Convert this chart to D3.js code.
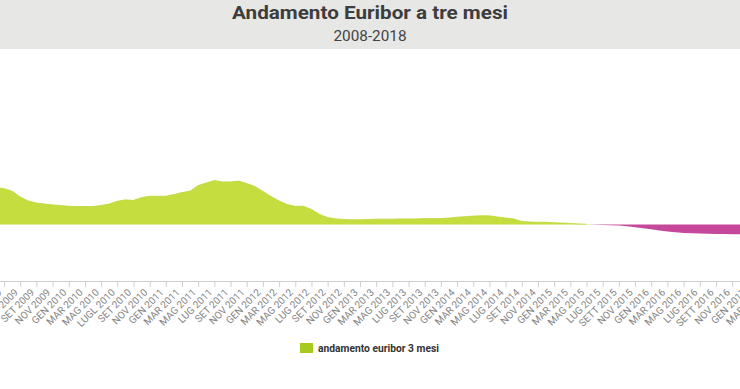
<!DOCTYPE html>
<html>
<head>
<meta charset="utf-8">
<script src="https://cdn.jsdelivr.net/npm/d3@7"></script>
<style>
  body { margin: 0; background: #fff; }
  svg { display: block; font-family: Roboto, "Open Sans", sans-serif; }
</style>
</head>
<body>
<div id="chart"></div>
<script>
// ---------- data (monthly average, %)
const years = [2008, 2009, 2010, 2011, 2012, 2013, 2014, 2015, 2016, 2017]
const values = [
  4.48, 4.36, 4.60, 4.78, 4.86, 4.94, 4.96, 4.97, 5.02, 5.11, 4.24, 3.29,
  2.46, 1.94, 1.64, 1.32, 1.28, 1.19, 0.98, 0.84, 0.77, 0.73, 0.70, 0.68,
  0.65, 0.64, 0.64, 0.64, 0.68, 0.73, 0.83, 0.88, 0.86, 0.96, 1.01, 1.01,
  1.01, 1.07, 1.14, 1.19, 1.39, 1.48, 1.57, 1.52, 1.52, 1.55, 1.46, 1.36,
  1.18, 1.00, 0.84, 0.71, 0.65, 0.65, 0.54, 0.36, 0.25, 0.20, 0.18, 0.17,
  0.17, 0.18, 0.19, 0.19, 0.19, 0.20, 0.20, 0.20, 0.21, 0.21, 0.21, 0.23,
  0.26, 0.28, 0.30, 0.31, 0.31, 0.27, 0.23, 0.20, 0.11, 0.09, 0.08, 0.08,
  0.06, 0.05, 0.04, 0.02, 0.01, -0.01, -0.02, -0.03, -0.04, -0.06, -0.10, -0.13,
  -0.17, -0.21, -0.25, -0.28, -0.30, -0.31, -0.32, -0.33, -0.34, -0.34, -0.35, -0.35,
  -0.35, -0.35, -0.35
]
// one label every two months
const tickLabels = [
  "GEN 2008", "MAR 2008", "MAG 2008", "LUG 2008", "SET 2008", "NOV 2008",
  "GEN 2009", "MAR 2009", "MAG 2009", "LUG 2009", "SET 2009", "NOV 2009",
  "GEN 2010", "MAR 2010", "MAG 2010", "LUGL 2010", "SET 2010", "NOV 2010",
  "GEN 2011", "MAR 2011", "MAG 2011", "LUG 2011", "SET 2011", "NOV 2011",
  "GEN 2012", "MAR 2012", "MAG 2012", "LUG 2012", "SET 2012", "NOV 2012",
  "GEN 2013", "MAR 2013", "MAG 2013", "LUG 2013", "SET 2013", "NOV 2013",
  "GEN 2014", "MAR 2014", "MAG 2014", "LUG 2014", "SET 2014", "NOV 2014",
  "GEN 2015", "MAR 2015", "MAG 2015", "LUG 2015", "SETT 2015", "NOV 2015",
  "GEN 2016", "MAR 2016", "MAG 2016", "LUG 2016", "SETT 2016", "NOV 2016",
  "GEN 2017", "MAR 2017"
]
const seriesName = "andamento euribor 3 mesi"

const data = values.map((v, i) => ({ i, v }))

// ---------- dimensions
const width = 740
const height = 389
const monthStep = 8.09
const plotLeft = -125.4     // chart is wider than the visible window
const axisY = 281

const svg = d3.select("#chart").append("svg")
  .attr("width", width)
  .attr("height", height)

// header band
svg.append("rect")
  .attr("x", 0).attr("y", 0)
  .attr("width", width).attr("height", 49)
  .attr("fill", "#e7e7e5")

svg.append("text")
  .attr("x", 370).attr("y", 19)
  .attr("text-anchor", "middle")
  .attr("font-size", 18)
  .attr("font-weight", 700)
  .attr("fill", "#3d3d3d")
  .attr("textLength", 276)
  .attr("lengthAdjust", "spacingAndGlyphs")
  .text("Andamento Euribor a tre mesi")

svg.append("text")
  .attr("x", 370).attr("y", 41)
  .attr("text-anchor", "middle")
  .attr("font-size", 14)
  .attr("fill", "#444")
  .attr("textLength", 73)
  .attr("lengthAdjust", "spacingAndGlyphs")
  .text(`${years[0]}-2018`)

// ---------- scales
const x = d3.scaleLinear()
  .domain([0, values.length - 1])
  .range([plotLeft, plotLeft + (values.length - 1) * monthStep])

const y = d3.scaleLinear()
  .domain([-2, 6])
  .range([axisY - 0.5, axisY - 0.5 - 8 * 28])

// ---------- areas
const posArea = d3.area()
  .x(d => x(d.i))
  .y0(y(0))
  .y1(d => y(Math.max(d.v, 0)))

const negArea = d3.area()
  .x(d => x(d.i))
  .y0(y(0))
  .y1(d => y(Math.min(d.v, 0)))

const topLine = d3.line()
  .x(d => x(d.i))
  .y(d => y(d.v))

svg.append("path")
  .datum(data)
  .attr("d", negArea)
  .attr("fill", "#c6489b")

svg.append("path")
  .datum(data)
  .attr("d", posArea)
  .attr("fill", "#c6dd40")

svg.append("path")
  .datum(data.filter(d => d.v >= 0))
  .attr("d", topLine)
  .attr("fill", "none")
  .attr("stroke", "#bcd536")
  .attr("stroke-width", 0.8)

// ---------- x axis
const tickIdx = tickLabels.map((_, k) => k * 2)
const xAxis = d3.axisBottom(x)
  .tickValues(tickIdx)
  .tickSize(6)
  .tickSizeOuter(0)
  .tickFormat(d => tickLabels[d / 2])

const gx = svg.append("g")
  .attr("transform", `translate(0,${axisY})`)
  .call(xAxis)

gx.select(".domain")
  .attr("d", `M0,0.5H${width}`)
  .attr("stroke", "#d0d0d0")
gx.selectAll(".tick line").attr("stroke", "#d0d0d0")
gx.selectAll(".tick text")
  .attr("fill", "#858585")
  .attr("font-size", 10)
  .attr("font-family", "Roboto, sans-serif")
  .attr("text-anchor", "end")
  .attr("dy", null)
  .attr("y", 0)
  .attr("transform", "translate(-2,12) rotate(-45)")

// ---------- legend
const legend = svg.append("g").attr("transform", "translate(300,343)")
legend.append("rect")
  .attr("width", 13).attr("height", 10)
  .attr("fill", "#a8c91e")
legend.append("text")
  .attr("x", 18).attr("y", 9)
  .attr("font-size", 11)
  .attr("font-weight", 700)
  .attr("fill", "#333")
  .attr("textLength", 121)
  .attr("lengthAdjust", "spacingAndGlyphs")
  .text(seriesName)
</script>
</body>
</html>
